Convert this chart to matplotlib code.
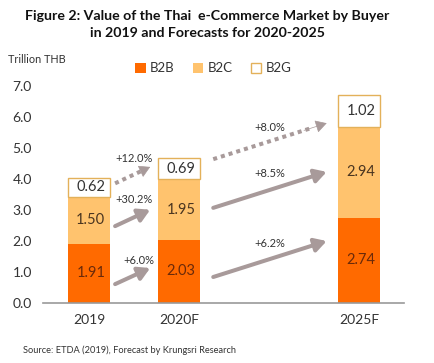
import matplotlib.pyplot as plt
import numpy as np

plt.rcParams["font.family"] = ["Lato", "DejaVu Sans"]

categories = ["2019", "2020F", "2025F"]
x_pos = [0, 1, 3]
b2b = [1.91, 2.03, 2.74]
b2c = [1.50, 1.95, 2.94]
b2g = [0.62, 0.69, 1.02]
growth_2020 = ["+6.0%", "+30.2%", "+12.0%"]
growth_2025 = ["+6.2%", "+8.5%", "+8.0%"]

C_B2B = "#FF6A00"
C_B2C = "#FFC36E"
C_B2G = "#FFFFFF"
C_EDGE = "#E3B15A"
C_ARROW = "#A89A9A"

fig = plt.figure(figsize=(4.35, 3.63), dpi=100)
ax = fig.add_axes([0.099, 0.166, 0.83, 0.598])

w = 0.47
b1 = ax.bar(x_pos, b2b, w, color=C_B2B, label="B2B", zorder=2)
bottom2 = np.array(b2b)
b2 = ax.bar(x_pos, b2c, w, bottom=bottom2, color=C_B2C, label="B2C", zorder=2)
bottom3 = bottom2 + np.array(b2c)
b3 = ax.bar(x_pos, b2g, w, bottom=bottom3, color=C_B2G, edgecolor=C_EDGE,
            linewidth=1.0, label="B2G", zorder=2)

for xi, v, b in zip(x_pos, b2b, [0, 0, 0]):
    ax.text(xi + 0.02, b + v / 2, f"{v:.2f}", ha="center", va="center",
            fontsize=10.5, color="#6A2A0A", zorder=3)
for xi, v, b in zip(x_pos, b2c, bottom2):
    ax.text(xi + 0.02, b + v / 2, f"{v:.2f}", ha="center", va="center",
            fontsize=10.5, color="#4A3520", zorder=3)
for xi, v, b in zip(x_pos, b2g, bottom3):
    ax.text(xi + 0.02, b + v / 2, f"{v:.2f}", ha="center", va="center",
            fontsize=10.5, color="#333333", zorder=3)

# growth arrows: (x0, y0, x1, y1, label_x, label_y, dotted, label)
arrows = [
    (0.29, 0.60, 0.68, 1.12, 0.55, 1.36, False, growth_2020[0]),
    (0.29, 2.47, 0.68, 3.00, 0.50, 3.32, False, growth_2020[1]),
    (0.29, 3.85, 0.68, 4.38, 0.50, 4.65, True, growth_2020[2]),
    (1.38, 0.83, 2.64, 1.99, 2.01, 1.91, False, growth_2025[0]),
    (1.38, 3.06, 2.64, 4.22, 2.01, 4.17, False, growth_2025[1]),
    (1.38, 4.63, 2.64, 5.79, 2.01, 5.65, True, growth_2025[2]),
]
head = "-|>,head_length=0.7,head_width=0.4"
for x0, y0, x1, y1, lx, ly, dotted, lab in arrows:
    if dotted:
        f = 0.85
        ax.plot([x0, x0 + (x1 - x0) * f], [y0, y0 + (y1 - y0) * f],
                color=C_ARROW, lw=2.9, linestyle=(0, (1, 1)),
                dash_capstyle="butt", zorder=1)
        ax.annotate("", xy=(x1, y1), xytext=(x0 + (x1 - x0) * 0.8, y0 + (y1 - y0) * 0.8),
                    arrowprops=dict(arrowstyle=head, color=C_ARROW, lw=0.5,
                                    shrinkA=0, shrinkB=0))
    else:
        ax.annotate("", xy=(x1, y1), xytext=(x0, y0),
                    arrowprops=dict(arrowstyle=head, color=C_ARROW, lw=2.9,
                                    shrinkA=0, shrinkB=0))
    ax.text(lx, ly, lab, ha="center", va="center", fontsize=8, color="#333333")

ax.set_xlim(-0.51, 3.5)
ax.set_ylim(0, 7)
ax.set_xticks(x_pos)
ax.set_xticklabels(categories, fontsize=10, color="#333333")
ax.set_yticks(np.arange(0, 7.5, 1.0))
ax.set_yticklabels([f"{v:.1f}" for v in np.arange(0, 7.5, 1.0)], fontsize=10, color="#333333")
ax.tick_params(axis="both", length=0, pad=8)
for s in ["top", "right", "left"]:
    ax.spines[s].set_visible(False)
ax.spines["bottom"].set_color("#999999")
ax.spines["bottom"].set_linewidth(1.2)

fig.text(0.476, 0.955, "Figure 2: Value of the Thai  e-Commerce Market by Buyer",
         ha="center", va="center", fontsize=10.2, fontweight="bold", color="#111111")
fig.text(0.476, 0.908, "in 2019 and Forecasts for 2020-2025",
         ha="center", va="center", fontsize=10.2, fontweight="bold", color="#111111")
fig.text(0.018, 0.835, "Trillion THB", ha="left", va="center", fontsize=7.8, color="#333333")
fig.text(0.053, 0.035, "Source: ETDA (2019), Forecast by Krungsri Research",
         ha="left", va="center", fontsize=6.7, color="#333333")

fig.legend(handles=[b1, b2, b3], labels=["B2B", "B2C", "B2G"], loc="center",
           bbox_to_anchor=(0.49, 0.812), ncol=3, frameon=False, fontsize=9.5,
           handlelength=0.8, handleheight=0.8, handletextpad=0.3, columnspacing=1.4,
           labelcolor="#333333")

fig.savefig("out.png", dpi=100)
